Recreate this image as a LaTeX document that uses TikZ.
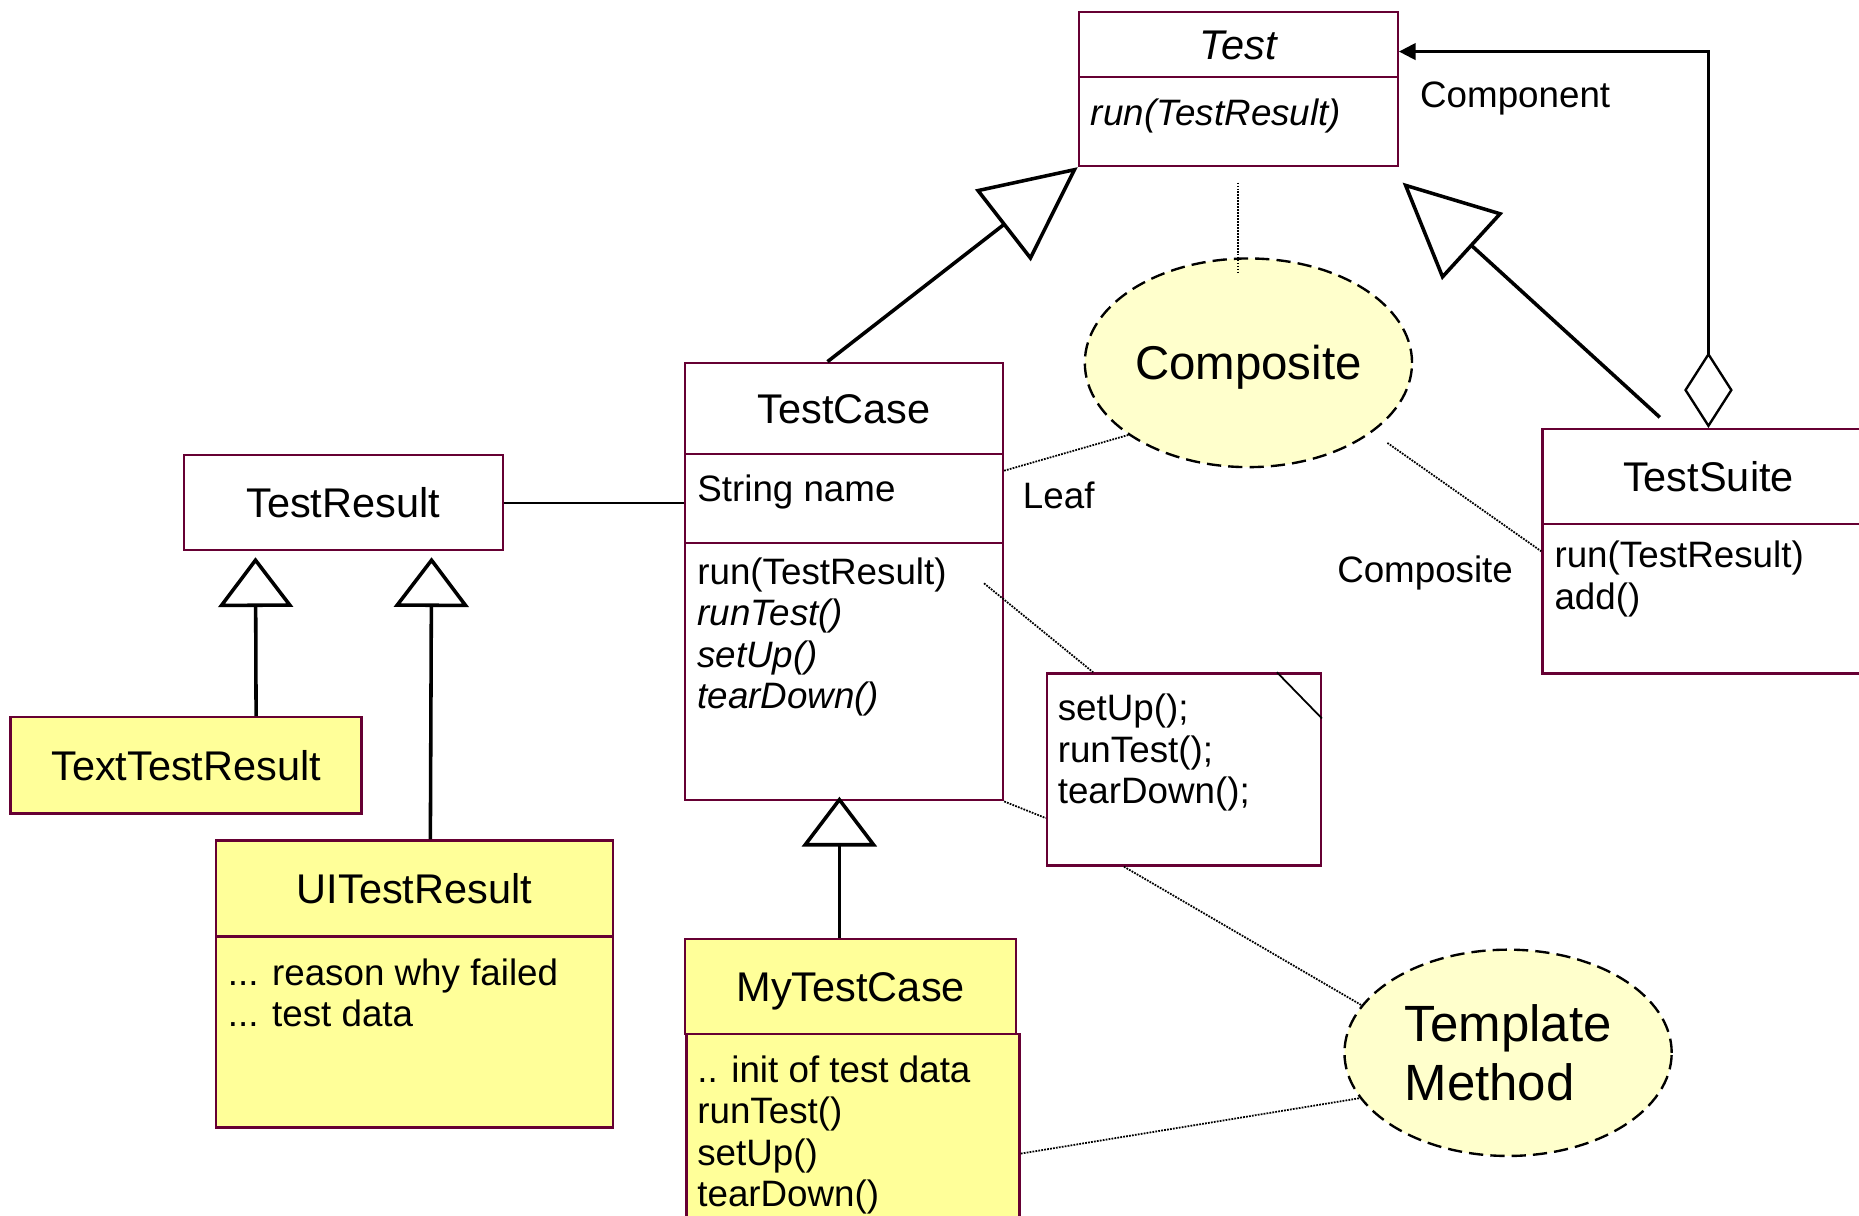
\documentclass[tikz,border=0pt]{standalone}
\usepackage{fontspec}
\setmainfont{Liberation Sans}
\usepackage{tikz}
\usetikzlibrary{arrows.meta,shapes.geometric}
\definecolor{umlred}{RGB}{102,0,51}
\definecolor{clsyellow}{RGB}{255,255,153}
\definecolor{patyellow}{RGB}{255,255,204}
\tikzset{
  box/.style={draw=umlred, line width=2pt, inner sep=0pt, anchor=north west, text height=25pt, text depth=0pt, font=\fontsize{35}{35}\selectfont},
  txt/.style={inner sep=0pt, anchor=base west, align=left, font=\fontsize{31}{35}\selectfont},
  lbl/.style={inner sep=0pt, anchor=base, font=\fontsize{31}{35}\selectfont},
  idea/.style={ellipse, draw, dash pattern=on 12pt off 6pt, line width=2pt, fill=patyellow, inner sep=0pt},
  hint/.style={densely dotted, line width=1.5pt},
  gen/.style={line width=3pt, -{Triangle[open, length=80pt, width=76pt]}},
  gensmall/.style={line width=3pt, -{Triangle[open, length=42pt, width=63pt]}},
}
\begin{document}
\begin{tikzpicture}[x=1pt, y=-1pt]
 \clip (0,0) rectangle (1568,1025);
 \node[box, minimum width=269, minimum height=55, font=\fontsize{35}{35}\selectfont\itshape] (th) at (909,9) {Test};
 \node[box, minimum width=269, minimum height=75] (tb) at (909,64) {};
 \node[txt, font=\fontsize{31}{35}\selectfont\itshape] (tbt) at (920,106) {run(TestResult)};

 \node[box, minimum width=268, minimum height=77] (tch) at (577,305) {TestCase};
 \node[box, minimum width=268, minimum height=75] (tca) at (577,382) {};
 \node[box, minimum width=268, minimum height=217] (tcm) at (577,457) {};
 \node[txt] (tcat) at (588,423) {String name};
 \node[txt] (tcmt) at (588,598) {run(TestResult)\\\textit{runTest()}\\\textit{setUp()}\\\textit{tearDown()}};

 \node[box, minimum width=280, minimum height=80] (tsh) at (1300,361) {TestSuite};
 \node[box, minimum width=280, minimum height=126] (tsb) at (1300,441) {};
 \node[txt] (tsbt) at (1311,514) {run(TestResult)\\add()};

 \node[box, minimum width=269, minimum height=80] (tr) at (154,383) {TestResult};
 \node[box, fill=clsyellow, minimum width=296, minimum height=81] (ttr) at (8,604) {TextTestResult};
 \node[box, fill=clsyellow, minimum width=335, minimum height=81] (uih) at (181,708) {UITestResult};
 \node[box, fill=clsyellow, minimum width=335, minimum height=161] (uib) at (181,789) {};
 \node[txt] (uibt) at (192,866) {... reason why failed\\... test data};
 \node[box, fill=clsyellow, minimum width=279, minimum height=80] (mth) at (577,791) {MyTestCase};
 \node[box, fill=clsyellow, minimum width=281, minimum height=170] (mtb) at (578,871) {};
 \node[txt] (mtbt) at (588,1018) {.. init of test data\\runTest()\\setUp()\\tearDown()};

 \node[box, minimum width=231, minimum height=162] (nt) at (882,567) {};
 \node[txt] (ntt) at (892,678) {setUp();\\runTest();\\tearDown();};
 \draw[line width=1.5pt] ([xshift=-38]nt.north east) -- ([yshift=-39]nt.north east);

 \node[idea, minimum width=276, minimum height=176, text height=29pt, text depth=0pt, font=\fontsize{40}{40}\selectfont] (comp) at (1053,306) {Composite};
 \node[idea, minimum width=276, minimum height=174, align=left, font=\fontsize{43}{50}\selectfont] (tm) at (1272,888) {Template\\Method};

 \node[lbl] (leaf) at (893,429) {Leaf};
 \node[lbl] (compl) at (1202,491) {Composite};
 \node[lbl] (cmpn) at (1278,91) {Component};

 \coordinate (gs) at (1400,352);
 \coordinate (gt) at (1183,154);
 \coordinate (rm) at (830,492);

 \draw[line width=1.5pt] (tr.east) -- (tr.east -| tca.west);
 \draw[gen] ([xshift=-14]tch.north) -- (tb.south west);
 \draw[gen] (gs) -- (gt);
 \draw[line width=2pt, {Diamond[open, length=64pt, width=41pt]}-{Triangle[length=14pt, width=14pt]}] (tsh.north) |- ([yshift=-6]th.east);
 \draw[gensmall] ([xshift=59]ttr.north) -- ([xshift=-74, yshift=-5]tr.south);
 \draw[gensmall] ([xshift=13.5]uih.north) -- ([xshift=74.5, yshift=-5]tr.south);
 \draw[gensmall] ([xshift=-9.5]mth.north) -- ([xshift=-4, yshift=4]tcm.south);

 \draw[hint] ([yshift=-13]tb.south) -- ([yshift=-13]tb.south |- comp.north);
 \draw[hint] (comp.211) -- ([yshift=-15]tca.north east);
 \draw[hint] ([xshift=14, yshift=-8]comp.-30) -- ([yshift=-24]tsb.north west);
 \draw[hint] (rm) -- ([xshift=40]nt.north west);
 \draw[hint] (tcm.south east) -- ([yshift=-123]nt.north west);
 \draw[hint] ([xshift=66]nt.south west) -- (tm.162);
 \draw[hint] ([yshift=-16]mtb.east) -- (tm.197);
\end{tikzpicture}
\end{document}
